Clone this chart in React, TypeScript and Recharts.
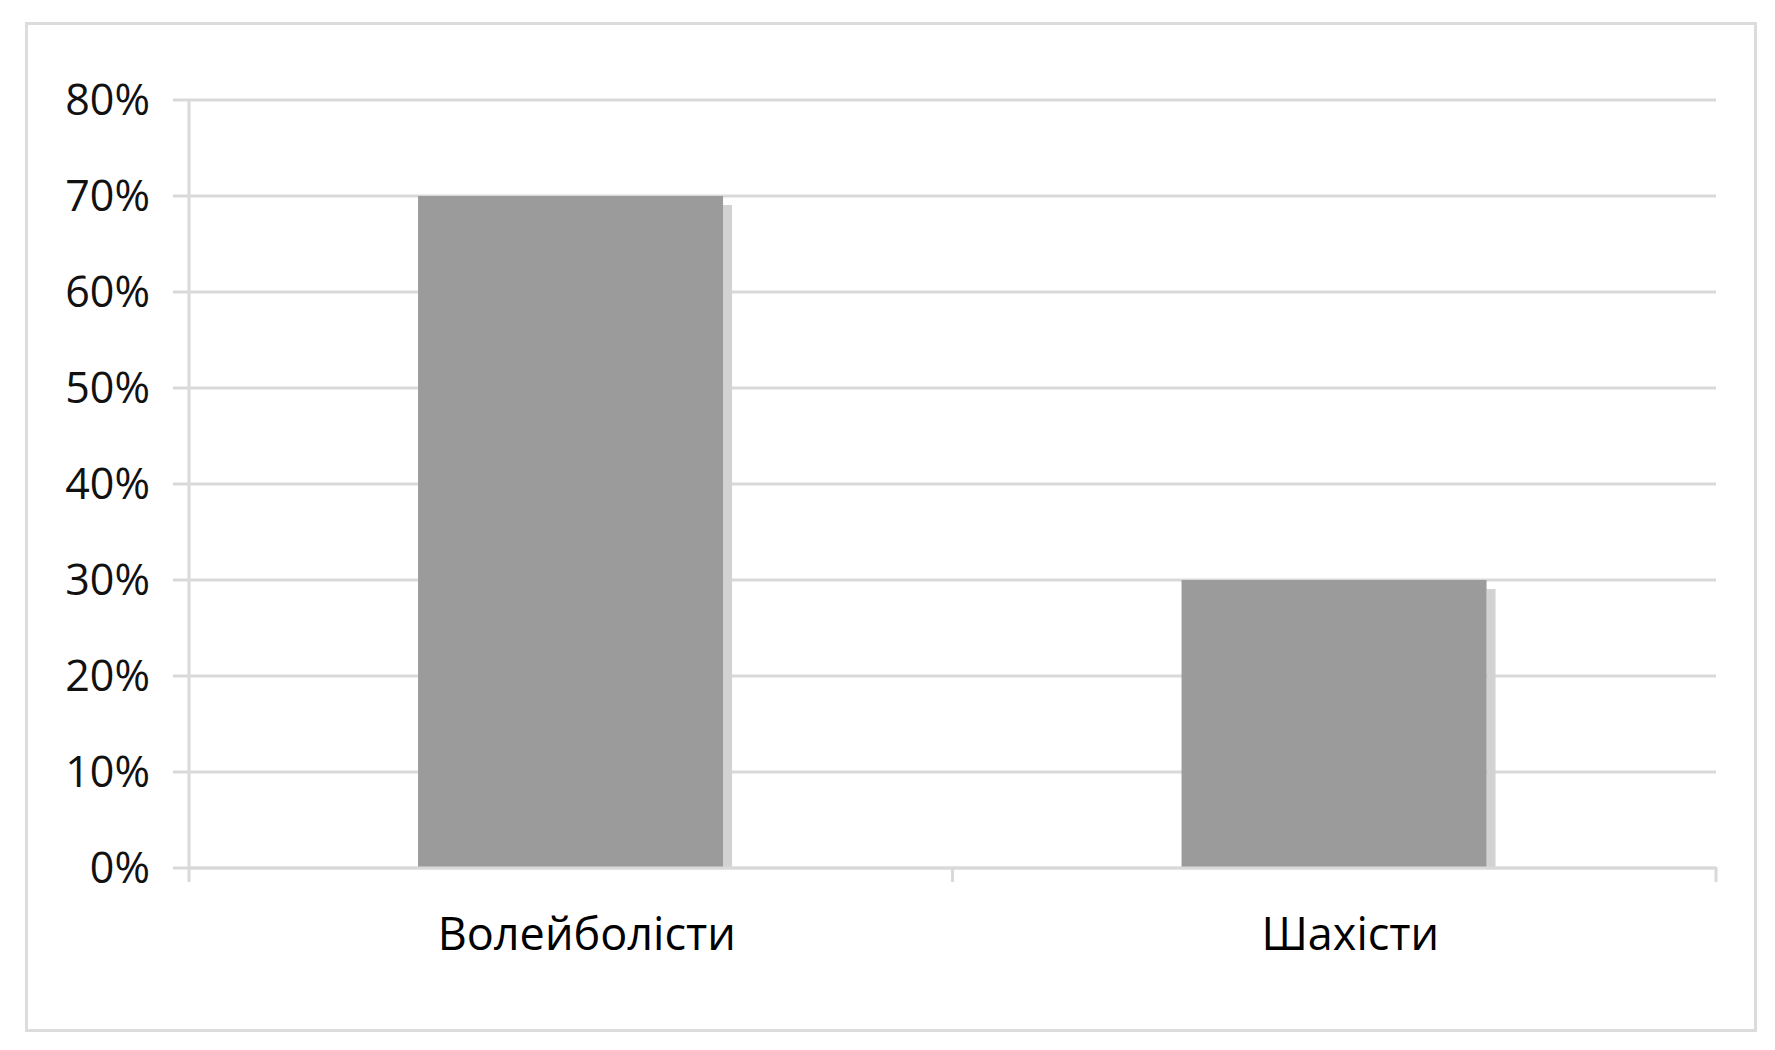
import { Bar, BarChart, CartesianGrid, XAxis, YAxis } from 'recharts'

const categories = ['Волейболісти', 'Шахісти']
const shares = [0.7, 0.3]
const yTicks = [0, 0.1, 0.2, 0.3, 0.4, 0.5, 0.6, 0.7, 0.8]

const chartData = categories.map((name, i) => ({ name, value: shares[i] }))

// bar with a soft grey shadow on the right, like the old office chart
function ShadowBar(props: any) {
  const { x, y, width, height } = props
  return (
    <g>
      <rect x={x + width} y={y + 9} width={9} height={height - 9} fill='#d2d2d2' />
      <rect x={x} y={y} width={width} height={height} fill='#9b9b9b' />
    </g>
  )
}

// category label plus the short tick marks at the category edges
function CategoryTick(props: any) {
  const { x, y, payload } = props
  const half = payload.offset || 0
  return (
    <g>
      <line x1={x - half} x2={x - half} y1={y - 1} y2={y + 14} stroke='#d9d9d9' strokeWidth={3} />
      <line x1={x + half} x2={x + half} y1={y - 1} y2={y + 14} stroke='#d9d9d9' strokeWidth={3} />
      <text
        x={x + 16}
        y={y + 50}
        dy='0.71em'
        textAnchor='middle'
        fill='#000'
        fontSize={45}
        fontFamily='Open Sans'
      >
        {payload.value}
      </text>
    </g>
  )
}

export default function App() {
  return (
    <div style={{ position: 'absolute', left: 0, top: 0, width: 1775, height: 1050, background: '#fff' }}>
      <div
        style={{
          position: 'absolute',
          left: 25,
          top: 22,
          width: 1726,
          height: 1004,
          border: '3px solid #dcdcdc',
        }}
      />
      <div style={{ position: 'absolute', left: 0, top: 0 }}>
        <BarChart
          width={1775}
          height={1050}
          data={chartData}
          margin={{ top: 100, right: 59, bottom: 0, left: 0 }}
          barCategoryGap='30%'
        >
          <CartesianGrid vertical={false} stroke='#d9d9d9' strokeWidth={3} />
          <XAxis
            dataKey='name'
            height={182}
            axisLine={{ stroke: '#d9d9d9', strokeWidth: 3 }}
            tickLine={false}
            interval={0}
            tickSize={0}
            tickMargin={0}
            tick={<CategoryTick />}
          />
          <YAxis
            width={189}
            domain={[0, 0.8]}
            ticks={yTicks}
            interval={0}
            stroke='#d9d9d9'
            strokeWidth={3}
            tickSize={16}
            tickMargin={23}
            tick={{ fill: '#111', fontSize: 43, fontFamily: 'Open Sans' }}
            tickFormatter={(v) => `${Math.round(v * 100)}%`}
          />
          <Bar dataKey='value' fill='#9b9b9b' shape={ShadowBar} isAnimationActive={false} />
        </BarChart>
      </div>
    </div>
  )
}
